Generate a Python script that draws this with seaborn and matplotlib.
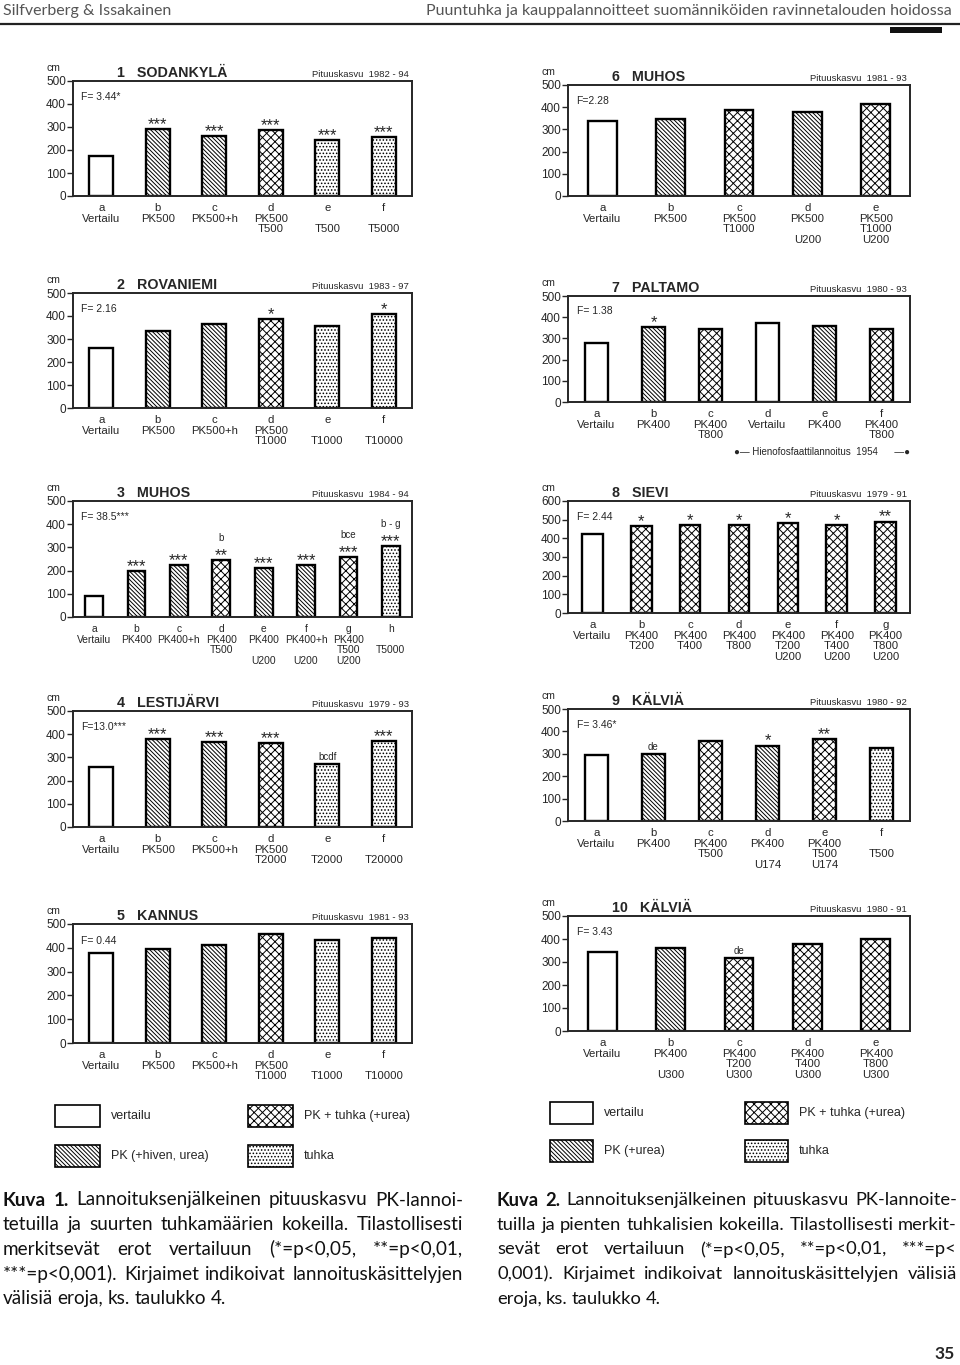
import numpy as np
import pandas as pd
import seaborn as sns
import matplotlib.pyplot as plt
from matplotlib.patches import Rectangle
from matplotlib.lines import Line2D
from matplotlib.transforms import blended_transform_factory

# ---- data ----
trt = list("abcdefgh")

p1_labels = ["Vertailu", "PK500", "PK500+h", "PK500\nT500", "\nT500", "\nT5000"]
p1_values = [175, 290, 262, 288, 243, 258]
p1_kinds = ["v", "pk", "pk", "pkt", "t", "t"]
p1_stars = ["", "***", "***", "***", "***", "***"]

p2_labels = ["Vertailu", "PK500", "PK500+h", "PK500\nT1000", "\nT1000", "\nT10000"]
p2_values = [263, 335, 365, 385, 357, 408]
p2_kinds = ["v", "pk", "pk", "pkt", "t", "t"]
p2_stars = ["", "", "", "*", "", "*"]

p3_labels = ["Vertailu", "PK400", "PK400+h", "PK400\nT500", "PK400\n\nU200",
             "PK400+h\n\nU200", "PK400\nT500\nU200", "\nT5000"]
p3_values = [90, 198, 222, 245, 210, 222, 258, 305]
p3_kinds = ["v", "pk", "pk", "pkt", "pk", "pk", "pkt", "t"]
p3_stars = ["", "***", "***", "**", "***", "***", "***", "***"]
p3_sig = ["", "", "", "b", "", "", "bce", "b - g"]

p4_labels = ["Vertailu", "PK500", "PK500+h", "PK500\nT2000", "\nT2000", "\nT20000"]
p4_values = [258, 378, 365, 360, 272, 370]
p4_kinds = ["v", "pk", "pk", "pkt", "t", "t"]
p4_stars = ["", "***", "***", "***", "", "***"]
p4_sig = ["", "", "", "", "bcdf", ""]

p5_labels = ["Vertailu", "PK500", "PK500+h", "PK500\nT1000", "\nT1000", "\nT10000"]
p5_values = [378, 393, 413, 457, 433, 443]
p5_kinds = ["v", "pk", "pk", "pkt", "t", "t"]

p6_labels = ["Vertailu", "PK500", "PK500\nT1000", "PK500\n\nU200", "PK500\nT1000\nU200"]
p6_values = [338, 347, 388, 378, 415]
p6_kinds = ["v", "pk", "pkt", "pk", "pkt"]

p7_labels = ["Vertailu", "PK400", "PK400\nT800", "Vertailu", "PK400", "PK400\nT800"]
p7_values = [277, 355, 342, 375, 360, 345]
p7_kinds = ["v", "pk", "pkt", "v", "pk", "pkt"]
p7_stars = ["", "*", "", "", "", ""]

p8_labels = ["Vertailu", "PK400\nT200", "PK400\nT400", "PK400\nT800",
             "PK400\nT200\nU200", "PK400\nT400\nU200", "PK400\nT800\nU200"]
p8_values = [425, 468, 470, 470, 480, 473, 490]
p8_kinds = ["v", "pkt", "pkt", "pkt", "pkt", "pkt", "pkt"]
p8_stars = ["", "*", "*", "*", "*", "*", "**"]

p9_labels = ["Vertailu", "PK400", "PK400\nT500", "PK400\n\nU174", "PK400\nT500\nU174", "\nT500"]
p9_values = [295, 300, 355, 337, 367, 327]
p9_kinds = ["v", "pk", "pkt", "pk", "pkt", "t"]
p9_stars = ["", "", "", "*", "**", ""]
p9_sig = ["", "de", "", "", "", ""]

p10_labels = ["Vertailu", "PK400\n\nU300", "PK400\nT200\nU300", "PK400\nT400\nU300", "PK400\nT800\nU300"]
p10_values = [345, 363, 317, 378, 398]
p10_kinds = ["v", "pk", "pkt", "pkt", "pkt"]
p10_sig = ["", "", "de", "", ""]

HATCH = {"v": "", "pk": "\\" * 8, "pkt": "xxxx", "t": "....."}

sns.set_style("ticks")
plt.rcParams["font.family"] = ["Liberation Sans", "DejaVu Sans"]
plt.rcParams["hatch.linewidth"] = 0.7

fig = plt.figure(figsize=(9.6, 13.65), dpi=100)
W, H = 960, 1365


def px_axes(x0, y0, x1, y1):
    return fig.add_axes([x0 / W, 1 - y1 / H, (x1 - x0) / W, (y1 - y0) / H])


def draw_panel(box, num, name, years, ftext, labels, values, kinds,
               stars=None, sig=None, ymax=500):
    ax = px_axes(*box)
    n = len(values)
    df = pd.DataFrame({"trt": trt[:n], "cm": values})
    sns.barplot(data=df, x="trt", y="cm", ax=ax, color="white", saturation=1,
                edgecolor="black", linewidth=1.7, width=0.42, errorbar=None)
    for patch, kind in zip(ax.patches, kinds):
        patch.set_facecolor("white")
        patch.set_hatch(HATCH[kind])
    ax.set_ylim(0, ymax)
    ax.set_yticks(range(0, ymax + 1, 100))
    ax.set_xlim(-0.5, n - 0.5)
    ax.set_xticks(range(n))
    ax.set_xticklabels([f"{t}\n{l}" for t, l in zip(trt, labels)],
                       fontsize=7.4 if n >= 8 else 8.2, linespacing=1.08)
    ax.tick_params(axis="x", length=0, pad=5)
    ax.tick_params(axis="y", length=4, width=1, labelsize=8.5, pad=1)
    ax.set_xlabel("")
    ax.set_ylabel("")
    for s in ax.spines.values():
        s.set_linewidth(1.4)

    ax.annotate(f"{num}   {name}", xy=(0.13, 1), xycoords="axes fraction",
                xytext=(0, 3), textcoords="offset points", va="baseline",
                fontsize=10.3, fontweight="bold")
    ax.annotate(f"Pituuskasvu  {years}", xy=(0.99, 1), xycoords="axes fraction",
                xytext=(0, 3), textcoords="offset points", va="baseline",
                ha="right", fontsize=6.8)
    ax.annotate("cm", xy=(0, 1), xycoords="axes fraction", xytext=(-14, 6),
                textcoords="offset points", va="bottom", ha="center", fontsize=7.5)
    ax.text(0.025, 0.86, ftext, transform=ax.transAxes, va="center", fontsize=7.5)

    for i, v in enumerate(values):
        st = stars[i] if stars else ""
        sg = sig[i] if sig else ""
        if st:
            ax.annotate(st, xy=(i, v), xytext=(0, 0), textcoords="offset points",
                        ha="center", va="baseline", fontsize=12)
        if sg:
            ax.annotate(sg, xy=(i, v), xytext=(0, 14 if st else 3),
                        textcoords="offset points", ha="center", va="baseline",
                        fontsize=7)
    return ax


LX0, LX1 = 73, 412
RX0, RX1 = 568, 910

draw_panel((LX0, 81, LX1, 196), 1, "SODANKYLÄ", "1982 - 94", "F= 3.44*",
           p1_labels, p1_values, p1_kinds, p1_stars)
draw_panel((LX0, 293, LX1, 408), 2, "ROVANIEMI", "1983 - 97", "F= 2.16",
           p2_labels, p2_values, p2_kinds, p2_stars)
draw_panel((LX0, 501, LX1, 617), 3, "MUHOS", "1984 - 94", "F= 38.5***",
           p3_labels, p3_values, p3_kinds, p3_stars, p3_sig)
draw_panel((LX0, 711, LX1, 827), 4, "LESTIJÄRVI", "1979 - 93", "F=13.0***",
           p4_labels, p4_values, p4_kinds, p4_stars, p4_sig)
draw_panel((LX0, 924, LX1, 1043), 5, "KANNUS", "1981 - 93", "F= 0.44",
           p5_labels, p5_values, p5_kinds)
draw_panel((RX0, 85, RX1, 196), 6, "MUHOS", "1981 - 93", "F=2.28",
           p6_labels, p6_values, p6_kinds)
ax7 = draw_panel((RX0, 296, RX1, 402), 7, "PALTAMO", "1980 - 93", "F= 1.38",
                 p7_labels, p7_values, p7_kinds, p7_stars)
draw_panel((RX0, 501, RX1, 613), 8, "SIEVI", "1979 - 91", "F= 2.44",
           p8_labels, p8_values, p8_kinds, p8_stars, ymax=600)
draw_panel((RX0, 709, RX1, 821), 9, "KÄLVIÄ", "1980 - 92", "F= 3.46*",
           p9_labels, p9_values, p9_kinds, p9_stars, p9_sig)
draw_panel((RX0, 916, RX1, 1031), 10, "KÄLVIÄ", "1980 - 91", "F= 3.43",
           p10_labels, p10_values, p10_kinds, None, p10_sig)

# bracket under Paltamo d-f
tr = blended_transform_factory(ax7.transData, ax7.transAxes)
ax7.text(3.95, -0.47, "●— Hienofosfaattilannoitus  1954      —●", transform=tr,
         ha="center", va="center", fontsize=7, clip_on=False,
         family=["Liberation Sans", "DejaVu Sans"])


# ---- legends ----
def legend_entry(x, y, w, h, kind, text):
    fig.add_artist(Rectangle((x / W, 1 - (y + h) / H), w / W, h / H,
                             transform=fig.transFigure, facecolor="white",
                             edgecolor="black", lw=1.2, hatch=HATCH[kind]))
    fig.text((x + w + 11) / W, 1 - (y + h / 2) / H, text, fontsize=9, va="center")


legend_entry(55, 1105, 45, 22, "v", "vertailu")
legend_entry(55, 1145, 45, 22, "pk", "PK (+hiven, urea)")
legend_entry(248, 1105, 45, 22, "pkt", "PK + tuhka (+urea)")
legend_entry(248, 1145, 45, 22, "t", "tuhka")
legend_entry(550, 1102, 43, 22, "v", "vertailu")
legend_entry(550, 1140, 43, 22, "pk", "PK (+urea)")
legend_entry(745, 1102, 43, 22, "pkt", "PK + tuhka (+urea)")
legend_entry(745, 1140, 43, 22, "t", "tuhka")

# ---- header ----
HFONT = ["Lato", "DejaVu Sans"]
fig.text(3 / W, 1 - 11 / H, "Silfverberg & Issakainen", fontsize=11.5,
         color="#555555", va="center", family=HFONT)
fig.text(952 / W, 1 - 11 / H,
         "Puuntuhka ja kauppalannoitteet suomänniköiden ravinnetalouden hoidossa",
         fontsize=11.5, color="#555555", va="center", ha="right", family=HFONT)
fig.add_artist(Line2D([0, 1], [1 - 24 / H] * 2, lw=1.6, color="#222222",
                      transform=fig.transFigure))
fig.add_artist(Rectangle((890 / W, 1 - 33 / H), 52 / W, 6 / H,
                         transform=fig.transFigure, facecolor="#111111", lw=0))

# ---- captions (justified) ----
renderer = fig.canvas.get_renderer()


def word_widths(words, size, first):
    out = []
    for j, w in enumerate(words):
        t = fig.text(0, 0, w, fontsize=size, family=HFONT,
                     fontweight="bold" if (first and j < 2) else "normal")
        out.append(t.get_window_extent(renderer).width)
        t.remove()
    return out


def caption(lines, x0, x1, y0, dy, size=11):
    # pick a font size so the widest line nearly fills the column
    best = 0
    for k, line in enumerate(lines[:-1]):
        words = line.split(" ")
        nat = sum(word_widths(words, size, k == 0)) + size * 0.32 * (len(words) - 1)
        best = max(best, nat)
    size = size * (x1 - x0) / best * 0.985
    for k, line in enumerate(lines):
        words = line.split(" ")
        texts = [fig.text(0, 0, w, fontsize=size, family=HFONT, va="center",
                          fontweight="bold" if (k == 0 and j < 2) else "normal",
                          color="#111111") for j, w in enumerate(words)]
        widths = [t.get_window_extent(renderer).width for t in texts]
        if k == len(lines) - 1:
            gap = size * 0.32
        else:
            gap = (x1 - x0 - sum(widths)) / (len(words) - 1)
        x = x0
        y = y0 + k * dy
        for t, w in zip(texts, widths):
            t.set_position((x / W, 1 - y / H))
            x += w + gap


caption(["Kuva 1. Lannoituksenjälkeinen pituuskasvu PK-lannoi-",
         "tetuilla ja suurten tuhkamäärien kokeilla. Tilastollisesti",
         "merkitsevät erot vertailuun (*=p<0,05, **=p<0,01,",
         "***=p<0,001). Kirjaimet indikoivat lannoituskäsittelyjen",
         "välisiä eroja, ks. taulukko 4."], 3, 463, 1200, 24.7)
caption(["Kuva 2. Lannoituksenjälkeinen pituuskasvu PK-lannoite-",
         "tuilla ja pienten tuhkalisien kokeilla. Tilastollisesti merkit-",
         "sevät erot vertailuun (*=p<0,05, **=p<0,01, ***=p<",
         "0,001). Kirjaimet indikoivat lannoituskäsittelyjen välisiä",
         "eroja, ks. taulukko 4."], 497, 957, 1200, 24.7)

fig.text(955 / W, 1 - 1354 / H, "35", fontsize=12.5, fontweight="bold",
         ha="right", va="center", family=HFONT)

fig.savefig("out.png", dpi=100, facecolor="white")
